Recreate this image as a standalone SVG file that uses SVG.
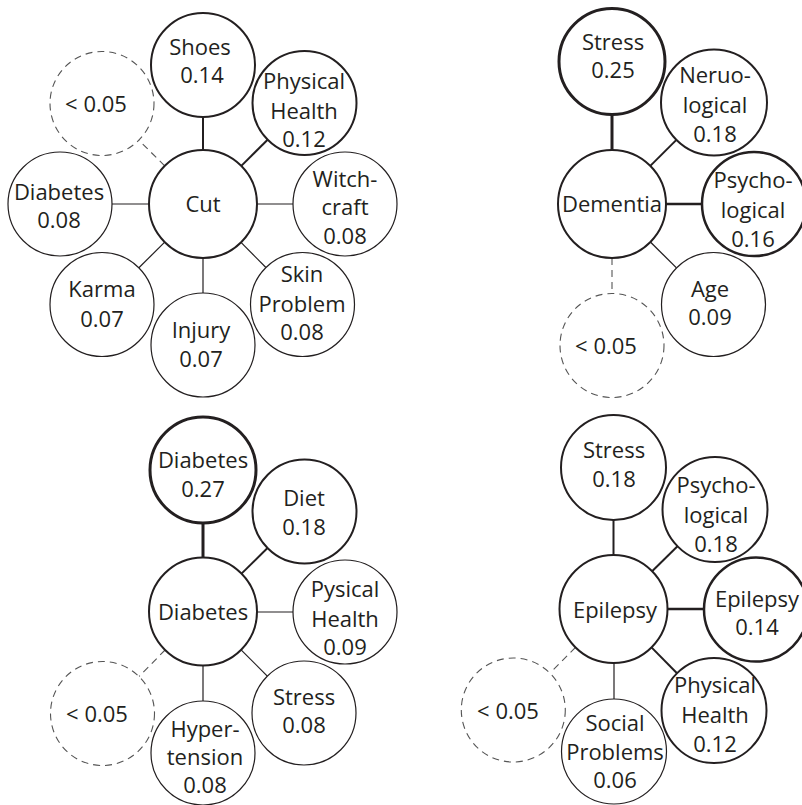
<svg xmlns="http://www.w3.org/2000/svg" width="802" height="805" viewBox="0 0 802 805">
<style>
  .n { fill: #fff; stroke: #231f20; }
  .thin { stroke-width: 1.2; }
  .med { stroke-width: 2; }
  .mt { stroke-width: 2.5; }
  .thick { stroke-width: 3; }
  .dash { fill: #fff; stroke: #555; stroke-width: 1.1; stroke-dasharray: 7 5; }
  text { font-family: "Open Sans", "Noto Sans", sans-serif; font-size: 22px; fill: #231f20; text-anchor: middle; }
  #connectors line { stroke: #231f20; }
  #connectors line.dl { stroke: #555; stroke-width: 1.1; stroke-dasharray: 7 5; }
</style>
<rect width="802" height="805" fill="#fff"/>
<g id="connectors">
  <line x1="203" y1="117" x2="203" y2="150" stroke-width="2"/>
  <line x1="241.3" y1="165.9" x2="267.6" y2="139.7" stroke-width="2"/>
  <line x1="112" y1="204" x2="149" y2="204" stroke-width="1.2"/>
  <line x1="257" y1="204" x2="293" y2="204" stroke-width="1.2"/>
  <line x1="164.7" y1="242.1" x2="138.9" y2="267.8" stroke-width="1.2"/>
  <line x1="203" y1="258" x2="203" y2="293" stroke-width="1.2"/>
  <line x1="241" y1="242.4" x2="265.9" y2="267.5" stroke-width="1.2"/>
  <line class="dl" x1="164.7" y1="165.9" x2="138.9" y2="140.2"/>

  <line x1="612" y1="115" x2="612" y2="150" stroke-width="3"/>
  <line x1="650.3" y1="165.9" x2="676.4" y2="139.9" stroke-width="2"/>
  <line x1="666" y1="204" x2="702" y2="204" stroke-width="2.5"/>
  <line x1="650.4" y1="242" x2="676.5" y2="267.9" stroke-width="1.3"/>
  <line class="dl" x1="612" y1="258" x2="612" y2="293"/>

  <line x1="203" y1="523" x2="203" y2="557.5" stroke-width="3"/>
  <line x1="241.5" y1="573.6" x2="267.5" y2="548" stroke-width="2"/>
  <line x1="257" y1="612" x2="293" y2="612" stroke-width="1.2"/>
  <line x1="241.1" y1="649.8" x2="267.3" y2="676.1" stroke-width="1.2"/>
  <line x1="203" y1="665.5" x2="203" y2="701" stroke-width="1.2"/>
  <line class="dl" x1="165.1" y1="650" x2="139" y2="676.5"/>

  <line x1="613.5" y1="520" x2="613.5" y2="555" stroke-width="2"/>
  <line x1="652.1" y1="571.2" x2="677.5" y2="546.3" stroke-width="2"/>
  <line x1="667.5" y1="609" x2="704" y2="609" stroke-width="2.5"/>
  <line x1="651.5" y1="647.4" x2="677" y2="673.2" stroke-width="2"/>
  <line x1="614" y1="663" x2="614" y2="699" stroke-width="1.2"/>
  <line class="dl" x1="575.5" y1="647.3" x2="550.3" y2="672.7"/>
</g>

<!-- Cluster 1: Cut -->
<g id="cut">
  <circle class="n med" cx="203" cy="204" r="54"/>
  <text x="203" y="212">Cut</text>
</g>
<g id="cut-shoes">
  <circle class="n med" cx="203" cy="65" r="52"/>
  <text x="200" y="55">Shoes</text>
  <text x="202" y="83">0.14</text>
</g>
<g id="cut-physical-health">
  <circle class="n med" cx="304.5" cy="103" r="52"/>
  <text x="304" y="89">Physical</text>
  <text x="304" y="119">Health</text>
  <text x="304" y="147">0.12</text>
</g>
<g id="cut-other">
  <circle class="dash" cx="102" cy="103.5" r="52"/>
  <text x="96" y="112">&lt; 0.05</text>
</g>
<g id="cut-diabetes">
  <circle class="n thin" cx="60" cy="204" r="52"/>
  <text x="59" y="200">Diabetes</text>
  <text x="59" y="228">0.08</text>
</g>
<g id="cut-witchcraft">
  <circle class="n thin" cx="345" cy="204" r="52"/>
  <text x="345" y="187">Witch-</text>
  <text x="345" y="215">craft</text>
  <text x="345" y="244">0.08</text>
</g>
<g id="cut-karma">
  <circle class="n thin" cx="102" cy="304.5" r="52"/>
  <text x="102" y="297">Karma</text>
  <text x="102" y="327">0.07</text>
</g>
<g id="cut-injury">
  <circle class="n thin" cx="203" cy="345" r="52"/>
  <text x="201" y="338">Injury</text>
  <text x="201" y="367">0.07</text>
</g>
<g id="cut-skin-problem">
  <circle class="n thin" cx="302.5" cy="304.5" r="52"/>
  <text x="302" y="282">Skin</text>
  <text x="302" y="312">Problem</text>
  <text x="302" y="340">0.08</text>
</g>

<!-- Cluster 2: Dementia -->
<g id="dementia">
  <circle class="n med" cx="612" cy="204" r="54"/>
  <text x="612" y="212">Dementia</text>
</g>
<g id="dementia-stress">
  <circle class="n thick" cx="612" cy="61.5" r="53"/>
  <text x="613" y="50">Stress</text>
  <text x="613" y="78">0.25</text>
</g>
<g id="dementia-neurological">
  <circle class="n med" cx="714" cy="102.5" r="53"/>
  <text x="715" y="83">Neruo-</text>
  <text x="715" y="113">logical</text>
  <text x="715" y="142">0.18</text>
</g>
<g id="dementia-psychological">
  <circle class="n mt" cx="754" cy="204" r="52"/>
  <text x="753" y="188">Psycho-</text>
  <text x="753" y="218">logical</text>
  <text x="753" y="247">0.16</text>
</g>
<g id="dementia-age">
  <circle class="n thin" cx="713.5" cy="304.5" r="52"/>
  <text x="710" y="297">Age</text>
  <text x="710" y="325">0.09</text>
</g>
<g id="dementia-other">
  <circle class="dash" cx="612" cy="345.5" r="52"/>
  <text x="606" y="354">&lt; 0.05</text>
</g>

<!-- Cluster 3: Diabetes -->
<g id="diabetes">
  <circle class="n med" cx="203" cy="611.5" r="54"/>
  <text x="203" y="620">Diabetes</text>
</g>
<g id="diabetes-diabetes">
  <circle class="n thick" cx="203" cy="470" r="53"/>
  <text x="203" y="468">Diabetes</text>
  <text x="203" y="497">0.27</text>
</g>
<g id="diabetes-diet">
  <circle class="n med" cx="304.5" cy="511.5" r="52"/>
  <text x="304" y="506">Diet</text>
  <text x="304" y="535">0.18</text>
</g>
<g id="diabetes-pysical-health">
  <circle class="n thin" cx="345" cy="612" r="52"/>
  <text x="345" y="597">Pysical</text>
  <text x="345" y="627">Health</text>
  <text x="345" y="655">0.09</text>
</g>
<g id="diabetes-stress">
  <circle class="n thin" cx="304" cy="713" r="52"/>
  <text x="304" y="705">Stress</text>
  <text x="304" y="733">0.08</text>
</g>
<g id="diabetes-hypertension">
  <circle class="n thin" cx="203" cy="753" r="52"/>
  <text x="205" y="737">Hyper-</text>
  <text x="205" y="765">tension</text>
  <text x="205" y="793">0.08</text>
</g>
<g id="diabetes-other">
  <circle class="dash" cx="102.5" cy="713.5" r="52"/>
  <text x="97" y="722">&lt; 0.05</text>
</g>

<!-- Cluster 4: Epilepsy -->
<g id="epilepsy">
  <circle class="n med" cx="613.5" cy="609" r="54"/>
  <text x="615" y="618">Epilepsy</text>
</g>
<g id="epilepsy-stress">
  <circle class="n med" cx="613.5" cy="467.5" r="52.5"/>
  <text x="614" y="458">Stress</text>
  <text x="614" y="487">0.18</text>
</g>
<g id="epilepsy-psychological">
  <circle class="n med" cx="715" cy="509.5" r="52.5"/>
  <text x="716" y="493">Psycho-</text>
  <text x="716" y="523">logical</text>
  <text x="716" y="552">0.18</text>
</g>
<g id="epilepsy-epilepsy">
  <circle class="n mt" cx="756" cy="609.5" r="52"/>
  <text x="757" y="607">Epilepsy</text>
  <text x="757" y="635">0.14</text>
</g>
<g id="epilepsy-physical-health">
  <circle class="n med" cx="714" cy="710.5" r="52.5"/>
  <text x="715" y="693">Physical</text>
  <text x="715" y="723">Health</text>
  <text x="715" y="752">0.12</text>
</g>
<g id="epilepsy-social-problems">
  <circle class="n thin" cx="614" cy="751.5" r="52.5"/>
  <text x="615" y="731">Social</text>
  <text x="615" y="760">Problems</text>
  <text x="615" y="788">0.06</text>
</g>
<g id="epilepsy-other">
  <circle class="dash" cx="513.3" cy="710" r="52"/>
  <text x="508" y="719">&lt; 0.05</text>
</g>
</svg>
